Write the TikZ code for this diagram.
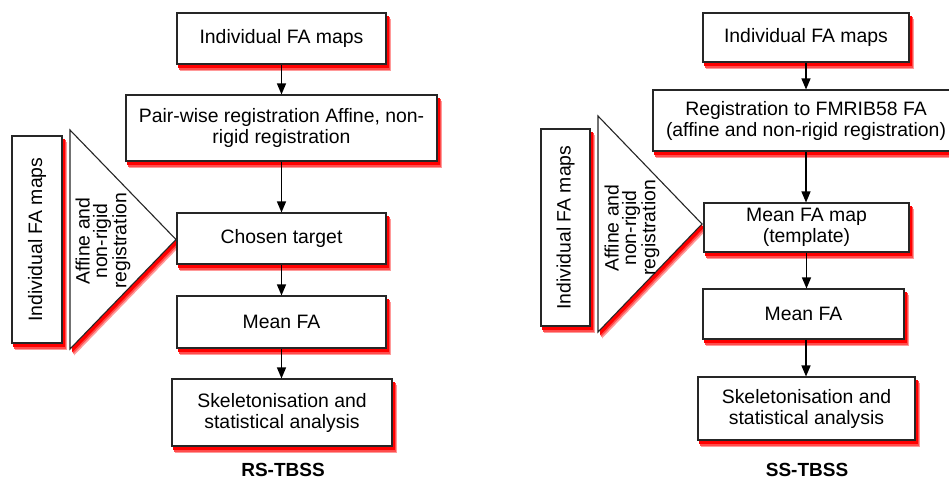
\documentclass[tikz,border=0pt]{standalone}
\usepackage{fontspec}
\setmainfont{Liberation Sans}
\usetikzlibrary{arrows.meta,calc}
\pgfdeclarelayer{background}
\pgfsetlayers{background,main}
\newcommand{\myboxshadow}[1]{%
  \fill[red!40] ($(#1.south west)+(4,6.5)$) rectangle ($(#1.north east)+(4,6.5)$);
  \fill[red!70] ($(#1.south west)+(3,5)$) rectangle ($(#1.north east)+(3,5)$);
  \fill[red] ($(#1.south west)+(2,3.5)$) rectangle ($(#1.north east)+(2,3.5)$);}
\newcommand{\mytrishadow}[3]{%
  \fill[red!40] ($(#1)+(4,6.5)$) -- ($(#2)+(4,6.5)$) -- ($(#3)+(4,6.5)$) -- cycle;
  \fill[red!70] ($(#1)+(3,5)$) -- ($(#2)+(3,5)$) -- ($(#3)+(3,5)$) -- cycle;
  \fill[red] ($(#1)+(2,3.5)$) -- ($(#2)+(2,3.5)$) -- ($(#3)+(2,3.5)$) -- cycle;}
\begin{document}
\begin{tikzpicture}[x=1pt,y=-1pt,
  box/.style={draw=black!85,line width=1.1pt,fill=white,align=center,inner sep=2pt,
    font=\fontsize{19.4}{21}\selectfont},
  tri/.style={draw=black!85,line width=1.1pt,fill=white},
  flow/.style={line width=1.3pt,-{Triangle[length=11pt,width=9pt]}},
  ttl/.style={font=\fontsize{19}{21}\selectfont\bfseries,inner sep=0pt,anchor=base}]
\clip (0,0) rectangle (949,480);
% ---- left: RS-TBSS
\node[box,minimum width=209,minimum height=51] (a1) at (281.5,38.5) {Individual FA maps};
\node[box,minimum width=311,minimum height=66] (a2) at (281.5,128) {Pair-wise registration Affine, non-\\rigid registration};
\node[box,minimum width=209,minimum height=51] (a3) at (281.5,238.5) {Chosen target};
\node[box,minimum width=209,minimum height=52] (a4) at (281.5,322) {Mean FA};
\node[box,minimum width=220,minimum height=67] (a5) at (282,412.5) {Skeletonisation and\\statistical analysis};
\node[ttl] (at) at (283,476.5) {RS-TBSS};
\node[box,minimum width=207,minimum height=50,rotate=90] (av) at (37,239.5) {Individual FA maps};
\draw[tri] (70,130) coordinate (atA) -- (176,239.5) coordinate (atB) -- (70,349) coordinate (atC) -- cycle;
\node[rotate=90,align=center,inner sep=0pt,font=\fontsize{19.4}{17.5}\selectfont] (ax) at (103,241) {Affine and\\non-rigid\\registration};
\draw[flow] (a1.south) -- (a1.south |- a2.north);
\draw[flow] (a2.south) -- (a2.south |- a3.north);
\draw[flow] (a3.south) -- (a3.south |- a4.north);
\draw[flow] (a4.south) -- (a4.south |- a5.north);
% ---- right: SS-TBSS
\node[box,minimum width=206,minimum height=49] (b1) at (806,37.5) {Individual FA maps};
\node[box,minimum width=306,minimum height=61] (b2) at (806,120.5) {Registration to FMRIB58 FA\\(affine and non-rigid registration)};
\node[box,minimum width=205,minimum height=49] (b3) at (806.5,227.5) {Mean FA map\\(template)};
\node[box,minimum width=201,minimum height=50] (b4) at (803.5,314) {Mean FA};
\node[box,minimum width=217,minimum height=63] (b5) at (806.5,408.5) {Skeletonisation and\\statistical analysis};
\node[ttl] (bt) at (807,476) {SS-TBSS};
\node[box,minimum width=197,minimum height=49,rotate=90] (bv) at (565.5,227.5) {Individual FA maps};
\draw[tri] (598,116) coordinate (btA) -- (702,224) coordinate (btB) -- (598,332) coordinate (btC) -- cycle;
\node[rotate=90,align=center,inner sep=0pt,font=\fontsize{19.4}{17.5}\selectfont] (bx) at (632,228) {Affine and\\non-rigid\\registration};
\draw[flow] (b1.south) -- (b1.south |- b2.north);
\draw[flow] (b2.south) -- (b2.south |- b3.north);
\draw[flow] (b3.south) -- (b3.south |- b4.north);
\draw[flow] ($(b4.south)+(2.5,0)$) -- ($(b4.south |- b5.north)+(2.5,0)$);
% ---- shadows
\begin{pgfonlayer}{background}
\fill[white] (-5,-5) rectangle (955,485);
\myboxshadow{a1}\myboxshadow{a2}\myboxshadow{a3}\myboxshadow{a4}\myboxshadow{a5}\myboxshadow{av}
\myboxshadow{b1}\myboxshadow{b2}\myboxshadow{b3}\myboxshadow{b4}\myboxshadow{b5}\myboxshadow{bv}
\mytrishadow{atA}{atB}{atC}
\mytrishadow{btA}{btB}{btC}
\end{pgfonlayer}
\end{tikzpicture}
\end{document}
